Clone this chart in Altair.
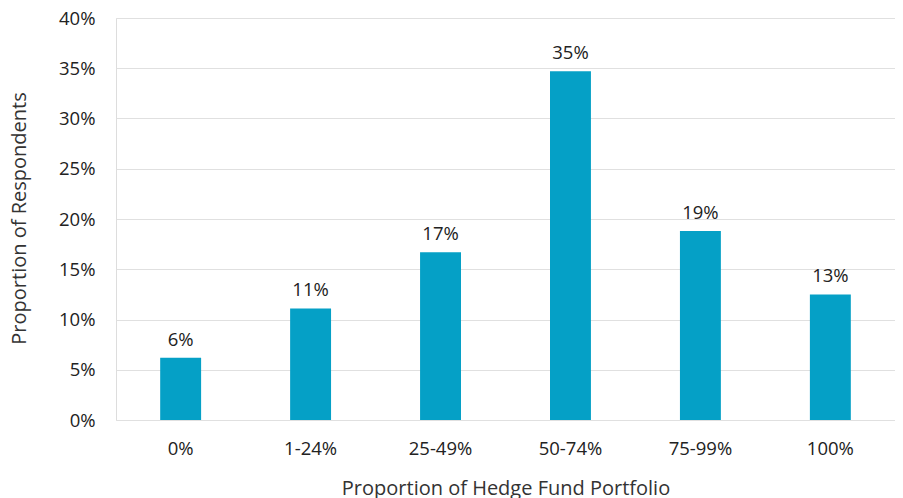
import altair as alt
import pandas as pd

categories = ["0%", "1-24%", "25-49%", "50-74%", "75-99%", "100%"]
values = [6.2, 11.1, 16.7, 34.7, 18.8, 12.5]
labels = ["6%", "11%", "17%", "35%", "19%", "13%"]

df = pd.DataFrame({"cat": categories, "val": [v / 100 for v in values], "lab": labels})

FONT = "Open Sans"
LBL = 18.5
TTL = 20

x = alt.X("cat:N", sort=categories, title="Proportion of Hedge Fund Portfolio",
          scale=alt.Scale(paddingInner=0.685, paddingOuter=0.34),
          axis=alt.Axis(labelAngle=0, domain=False, ticks=False, labelPadding=19,
                        labelFontSize=LBL, labelColor="#222", labelFont=FONT,
                        titleFontSize=TTL, titleFont=FONT, titleColor="#333",
                        titleFontWeight="normal", titleY=74, titleBaseline="alphabetic"))
y = alt.Y("val:Q", title="Proportion of Respondents",
          scale=alt.Scale(domain=[0, 0.4], nice=False),
          axis=alt.Axis(format=".0%", values=[i * 0.05 for i in range(9)], domain=False,
                        ticks=False, labelPadding=21, labelFontSize=LBL, labelColor="#222",
                        labelFont=FONT, gridColor="#e0e0e0", gridWidth=1.2,
                        titleFontSize=TTL, titleFont=FONT, titleColor="#333",
                        titleFontWeight="normal", titleX=-97, titleY=200,
                        titleAngle=-90, titleAlign="center", titleBaseline="middle"))

bars = alt.Chart(df).mark_bar(color="#05A0C6").encode(x=x, y=y)
text = alt.Chart(df).mark_text(dy=-8, baseline="bottom", fontSize=LBL, font=FONT,
                                color="#222").encode(x=alt.X("cat:N", sort=categories),
                                                     y="val:Q", text="lab:N")

chart = (bars + text).properties(
    width=779, height=402,
    padding={"left": 108, "top": 10, "right": 0, "bottom": 80},
    autosize=alt.AutoSizeParams(type="none"),
).configure_view(stroke=None).configure(background="white")

chart.save("out.html", embed_options={"renderer": "svg", "actions": False})
